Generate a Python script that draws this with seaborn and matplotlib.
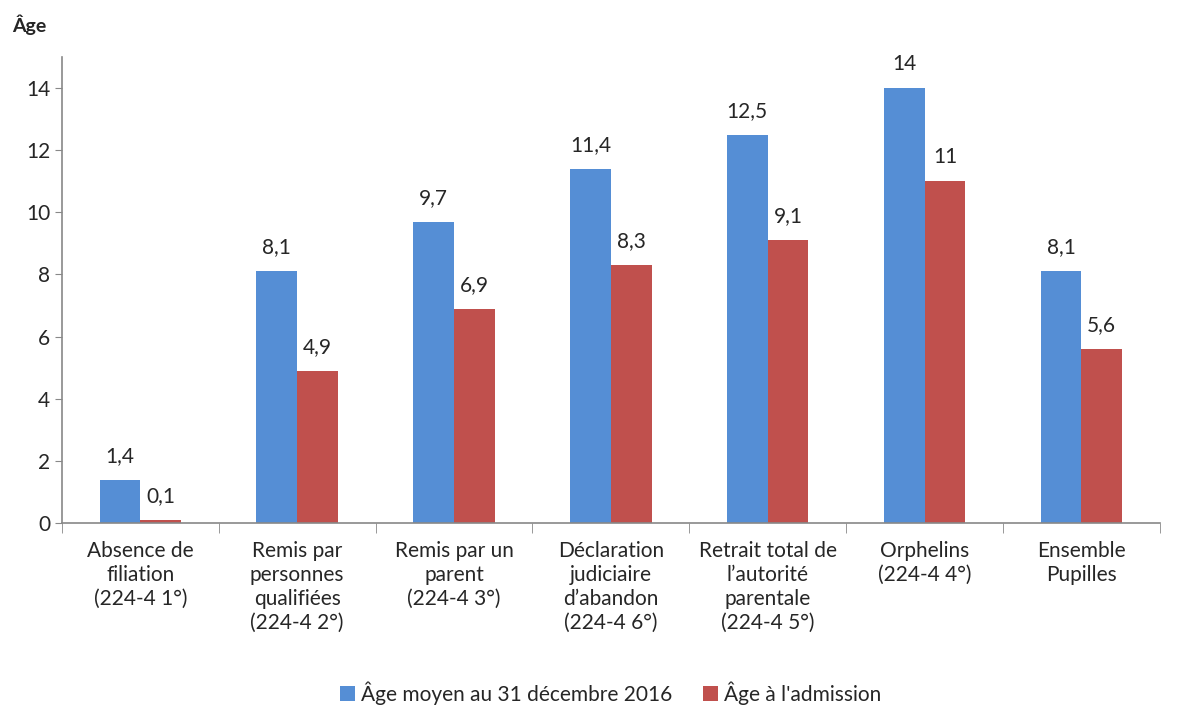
import numpy as np
import pandas as pd
import matplotlib
matplotlib.use("Agg")
import matplotlib.pyplot as plt
import seaborn as sns

# données
categories = [
    "Absence de\nfiliation\n(224-4 1°)",
    "Remis par\npersonnes\nqualifiées\n(224-4 2°)",
    "Remis par un\nparent\n(224-4 3°)",
    "Déclaration\njudiciaire\nd\u2019abandon\n(224-4 6°)",
    "Retrait total de\nl\u2019autorité\nparentale\n(224-4 5°)",
    "Orphelins\n(224-4 4°)",
    "Ensemble\nPupilles",
]
series = ["Âge moyen au 31 décembre 2016", "Âge à l'admission"]
age_moyen = [1.4, 8.1, 9.7, 11.4, 12.5, 14, 8.1]
age_admission = [0.1, 4.9, 6.9, 8.3, 9.1, 11, 5.6]

df = pd.DataFrame({
    "categorie": categories * 2,
    "serie": [series[0]] * len(categories) + [series[1]] * len(categories),
    "age": age_moyen + age_admission,
})

sns.set_style("white")
plt.rcParams["font.family"] = ["Lato", "DejaVu Sans"]

fig = plt.figure(figsize=(11.81, 7.06), dpi=100)
ax = fig.add_axes([0.0525, 0.2592, 0.9295, 0.66])

palette = {series[0]: "#558ED5", series[1]: "#C0504D"}
sns.barplot(data=df, x="categorie", y="age", hue="serie", palette=palette,
            width=0.52, gap=0, saturation=1, linewidth=0, ax=ax, legend=True)

def fmt(v):
    return str(int(v)) if float(v).is_integer() else f"{v:.1f}".replace(".", ",")

for cont, vals in zip(ax.containers, [age_moyen, age_admission]):
    ax.bar_label(cont, labels=[fmt(v) for v in vals], padding=10, fontsize=15)

ax.set_xlim(-0.5, 6.5)
ax.set_ylim(0, 15)
ax.set_yticks(range(0, 15, 2))
ax.set_xlabel("")
ax.set_ylabel("")
ax.tick_params(axis="y", labelsize=15, length=5, color="#888888", left=True)
ax.tick_params(axis="x", which="major", length=0, labelsize=15, pad=13)
ax.set_xticks(np.arange(-0.5, 7, 1), minor=True)
ax.tick_params(axis="x", which="minor", length=7, color="#888888", bottom=True)
for lbl in ax.get_xticklabels():
    lbl.set_linespacing(1.25)

for s in ["top", "right"]:
    ax.spines[s].set_visible(False)
for s in ["left", "bottom"]:
    ax.spines[s].set_color("#888888")
    ax.spines[s].set_linewidth(1.2)

ax.legend(loc="lower center", bbox_to_anchor=(0.5, -0.43), ncol=2, frameon=False,
          fontsize=15, handlelength=0.7, handleheight=0.7, handletextpad=0.3,
          columnspacing=1.5)

fig.text(0.01, 0.955, "Âge", fontsize=14, fontweight="bold")

fig.savefig("out.png", dpi=100)
